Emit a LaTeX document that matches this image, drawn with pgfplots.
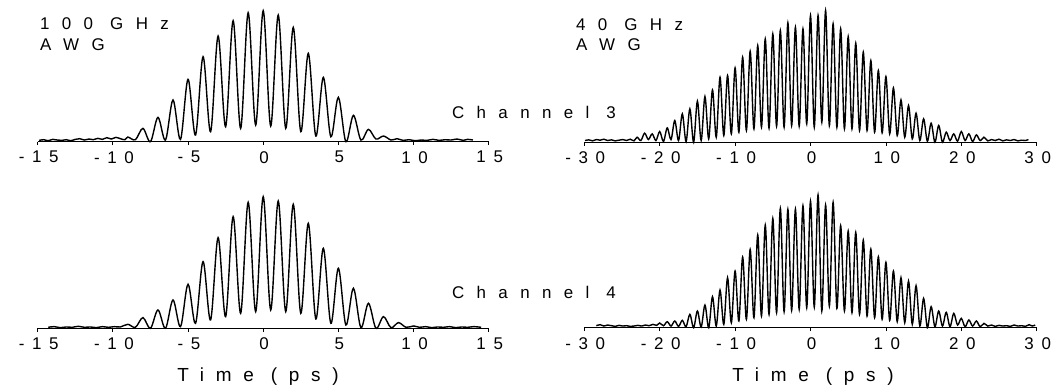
\documentclass[border=0pt]{standalone}
\usepackage{fontspec}
\setmainfont{Liberation Sans}
\newfontfamily\lsTick[LetterSpace=45]{Liberation Sans}
\newfontfamily\lsTitle[LetterSpace=73]{Liberation Sans}
\newfontfamily\lsTime[LetterSpace=62]{Liberation Sans}
\usepackage{pgfplots}
\pgfplotsset{compat=1.18}
\pgfplotsset{
  panel/.style={
    scale only axis, height=133.33bp,
    ymin=0, ymax=400,
    axis x line=bottom, axis y line=none,
    axis line style={-, line width=0.8bp},
    tick align=outside, major tick length=3.5bp,
    tick style={black, line width=0.8bp},
    clip=false,
    xticklabel style={font=\lsTick\fontsize{17}{17}\selectfont, yshift=-2.5bp, xshift=1bp},
  },
  lpanel/.style={panel, width=451bp, xmin=-15, xmax=15,
    xtick={-15,-10,-5,0,5,10,15}, xticklabels={-15,-10,-5,0,5,10,15}},
  rpanel/.style={panel, width=452.4bp, xmin=-30, xmax=30,
    xtick={-30,-20,-10,0,10,20,30}, xticklabels={-30,-20,-10,0,10,20,30}},
  trace/.style={black, line width=1.4bp, smooth, tension=0.55},
}
\begin{document}
\begin{tikzpicture}
\path[use as bounding box] (0bp,0bp) rectangle (1051bp,390bp);
% left top
\begin{axis}[lpanel, at={(37.7bp,248.3bp)}, anchor=south west]
\addplot[trace] coordinates {(-14.9,4)(-14.6,6)(-14.3,3)(-14.0,7)(-13.7,5)(-13.4,4)(-13.1,6)(-12.8,3)(-12.5,7)(-12.2,9)(-11.9,5)(-11.6,8)(-11.3,6)(-11.0,10)(-10.7,7)(-10.4,12)(-10.1,8)(-9.8,13)(-9.5,9)(-9.2,6)(-9.0,14)(-8.5,6)(-8.0,40)(-7.5,0)(-7.0,73)(-6.5,5)(-6.0,125)(-5.5,7)(-5.0,187)(-4.5,20)(-4.0,255)(-3.5,30)(-3.0,317)(-2.5,45)(-2.0,363)(-1.5,40)(-1.0,387)(-0.5,50)(0.0,393)(0.5,47)(1.0,380)(1.5,40)(2.0,343)(2.5,30)(3.0,265)(3.5,17)(4.0,193)(4.5,15)(5.0,133)(5.5,0)(6.0,79)(6.5,5)(7.0,37)(7.5,8)(8.0,17)(8.5,5)(8.9,9)(9.3,4)(9.7,6)(10.1,3)(10.5,5)(10.9,4)(11.3,7)(11.7,4)(12.1,6)(12.5,5)(12.9,8)(13.3,4)(13.6,7)(13.95,5)};
\end{axis}
% right top
\begin{axis}[rpanel, at={(584.3bp,247.8bp)}, anchor=south west]
\addplot[trace] coordinates {(-29.9,5)(-29.4,7)(-28.9,4)(-28.4,8)(-27.9,6)(-27.4,9)(-26.9,5)(-26.4,7)(-25.9,4)(-25.4,6)(-24.9,8)(-24.4,5)(-23.9,9)(-23.4,4)(-23.0,15)(-22.5,5)(-22.0,27)(-21.5,8)(-21.0,25)(-20.5,5)(-20.0,32)(-19.5,2)(-19.0,43)(-18.5,8)(-18.0,65)(-17.5,5)(-17.0,85)(-16.5,2)(-16.0,100)(-15.5,0)(-15.0,123)(-14.5,5)(-14.0,137)(-13.5,10)(-13.0,157)(-12.5,15)(-12.0,195)(-11.5,20)(-11.0,200)(-10.5,25)(-10.0,223)(-9.5,30)(-9.0,255)(-8.5,35)(-8.0,273)(-7.5,40)(-7.0,290)(-6.5,45)(-6.0,310)(-5.5,42)(-5.0,325)(-4.5,48)(-4.0,335)(-3.5,45)(-3.0,358)(-2.5,50)(-2.0,345)(-1.5,48)(-1.0,340)(-0.5,55)(0.0,380)(0.5,45)(1.0,380)(1.5,60)(2.0,395)(2.5,50)(3.0,355)(3.5,45)(4.0,340)(4.5,40)(5.0,317)(5.5,40)(6.0,297)(6.5,35)(7.0,270)(7.5,35)(8.0,245)(8.5,30)(9.0,215)(9.5,28)(10.0,197)(10.5,25)(11.0,163)(11.5,20)(12.0,127)(12.5,15)(13.0,110)(13.5,10)(14.0,87)(14.5,5)(15.0,70)(15.5,3)(16.0,57)(16.5,0)(17.0,50)(17.5,0)(18.0,30)(18.5,5)(19.0,25)(19.5,3)(20.0,32)(20.5,5)(21.0,25)(21.5,2)(22.0,22)(22.5,5)(23.0,15)(23.5,4)(24.0,8)(24.5,5)(25.0,9)(25.5,4)(26.0,7)(26.5,5)(27.0,8)(27.5,4)(28.0,6)(28.5,5)(28.9,8)};
\end{axis}
% left bottom
\begin{axis}[lpanel, at={(37.7bp,61.7bp)}, anchor=south west]
\addplot[trace] coordinates {(-14.3,3)(-13.9,5)(-13.5,2)(-13.1,4)(-12.7,3)(-12.3,6)(-11.9,3)(-11.5,4)(-11.1,2)(-10.7,5)(-10.3,3)(-9.9,5)(-9.5,4)(-9.0,12)(-8.5,3)(-8.0,32)(-7.5,0)(-7.0,55)(-6.5,0)(-6.0,85)(-5.5,5)(-5.0,132)(-4.5,15)(-4.0,200)(-3.5,25)(-3.0,272)(-2.5,35)(-2.0,335)(-1.5,45)(-1.0,378)(-0.5,50)(0.0,395)(0.5,55)(1.0,382)(1.5,50)(2.0,372)(2.5,45)(3.0,315)(3.5,28)(4.0,240)(4.5,15)(5.0,180)(5.5,10)(6.0,120)(6.5,2)(7.0,75)(7.5,0)(8.0,35)(8.5,2)(9.0,17)(9.5,3)(10.0,7)(10.4,3)(10.8,5)(11.2,2)(11.6,4)(12.0,3)(12.4,5)(12.8,2)(13.2,4)(13.6,3)(14.0,5)(14.5,3)};
\end{axis}
% right bottom
\begin{axis}[rpanel, at={(584.3bp,62.3bp)}, anchor=south west]
\addplot[trace] coordinates {(-28.4,6)(-27.9,9)(-27.4,5)(-26.9,8)(-26.4,6)(-25.9,4)(-25.4,7)(-24.9,5)(-24.4,6)(-23.9,4)(-23.4,5)(-22.9,7)(-22.4,5)(-21.9,8)(-21.4,6)(-20.9,10)(-20.4,7)(-20.0,14)(-19.5,6)(-19.0,18)(-18.5,5)(-18.0,20)(-17.5,4)(-17.0,22)(-16.5,3)(-16.0,40)(-15.5,0)(-15.0,50)(-14.5,2)(-14.0,68)(-13.5,0)(-13.0,93)(-12.5,5)(-12.0,113)(-11.5,10)(-11.0,150)(-10.5,15)(-10.0,170)(-9.5,20)(-9.0,212)(-8.5,25)(-8.0,235)(-7.5,30)(-7.0,278)(-6.5,35)(-6.0,308)(-5.5,40)(-5.0,328)(-4.5,45)(-4.0,358)(-3.5,48)(-3.0,355)(-2.5,52)(-2.0,356)(-1.5,55)(-1.0,366)(-0.5,60)(0.0,380)(0.5,62)(1.0,398)(1.5,50)(2.0,368)(2.5,65)(3.0,376)(3.5,58)(4.0,306)(4.5,50)(5.0,290)(5.5,45)(6.0,286)(6.5,40)(7.0,263)(7.5,35)(8.0,236)(8.5,30)(9.0,213)(9.5,25)(10.0,196)(10.5,22)(11.0,170)(11.5,18)(12.0,150)(12.5,15)(13.0,140)(13.5,10)(14.0,126)(14.5,5)(15.0,88)(15.5,0)(16.0,63)(16.5,3)(17.0,50)(17.5,5)(18.0,46)(18.5,3)(19.0,43)(19.5,8)(20.0,28)(20.5,3)(21.0,23)(21.5,5)(22.0,20)(22.5,3)(23.0,13)(23.5,5)(24.0,8)(24.5,4)(25.0,7)(25.5,5)(26.0,6)(26.5,4)(27.0,8)(27.5,5)(28.0,6)(28.5,4)(29.0,9)(29.4,5)(29.8,8)};
\end{axis}
% texts
\begin{scope}[every node/.style={inner sep=0pt, font=\lsTitle\fontsize{17}{17}\selectfont}]
\node[anchor=west] at (40bp,366bp) {100 GHz};
\node[anchor=west] at (40bp,345bp) {AWG};
\node[anchor=west] at (576bp,365bp) {40 GHz};
\node[anchor=west] at (576bp,345bp) {AWG};
\node at (534bp,278bp) {Channel 3};
\node at (534bp,98bp) {Channel 4};
\node[font=\lsTime\fontsize{19}{19}\selectfont] at (258bp,13bp) {Time (ps)};
\node[font=\lsTime\fontsize{19}{19}\selectfont] at (813bp,13bp) {Time (ps)};
\end{scope}
\end{tikzpicture}
\end{document}
